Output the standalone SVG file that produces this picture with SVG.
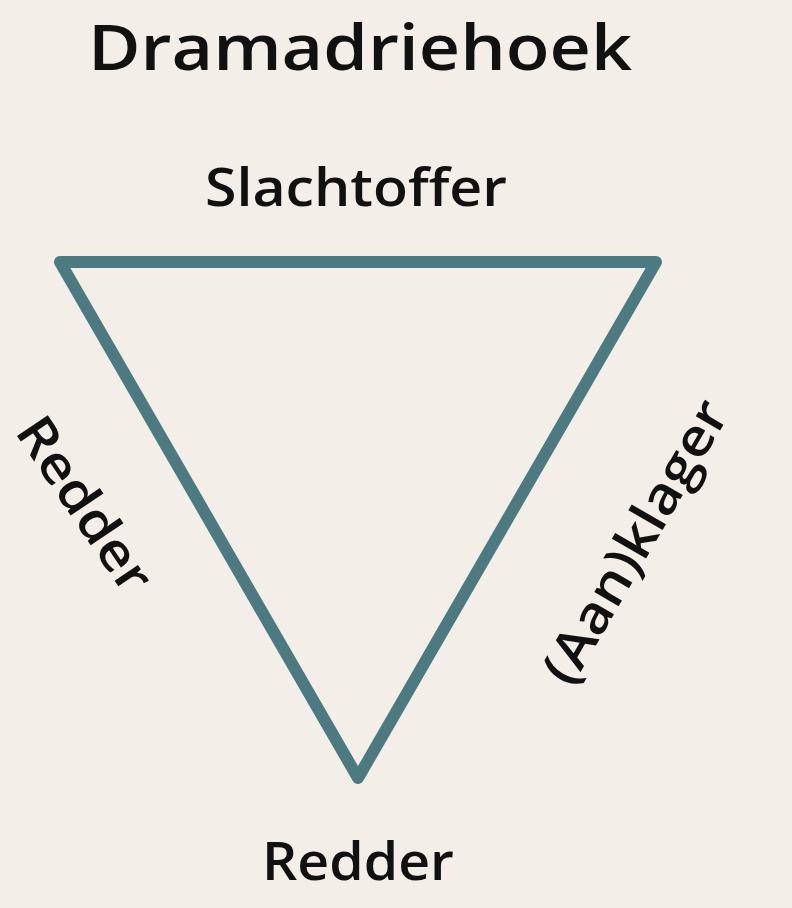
<svg xmlns="http://www.w3.org/2000/svg" width="792" height="908" viewBox="0 0 792 908">
<style>
.t{font-family:"Open Sans","Liberation Sans",sans-serif;font-weight:600;fill:#111;text-anchor:middle}
</style>
<rect width="792" height="908" fill="#f3efe8"/>
<g id="title"><text class="t" x="360" y="70" font-size="64" textLength="544" lengthAdjust="spacingAndGlyphs">Dramadriehoek</text></g>
<g id="connectors"><polygon points="60,262 656,262 358,778" fill="none" stroke="#4b7a80" stroke-width="12" stroke-linejoin="round"/></g>
<g id="top"><text class="t" x="356" y="206" font-size="52" textLength="302" lengthAdjust="spacingAndGlyphs">Slachtoffer</text></g>
<g id="left"><text class="t" font-size="52" transform="translate(84,505) rotate(56)" y="17" textLength="200" lengthAdjust="spacingAndGlyphs">Redder</text></g>
<g id="right"><text class="t" font-size="52" transform="translate(636,542) rotate(-60)" y="17" textLength="318" lengthAdjust="spacingAndGlyphs">(Aan)klager</text></g>
<g id="bottom"><text class="t" x="358" y="880" font-size="52" textLength="192" lengthAdjust="spacingAndGlyphs">Redder</text></g>
</svg>
